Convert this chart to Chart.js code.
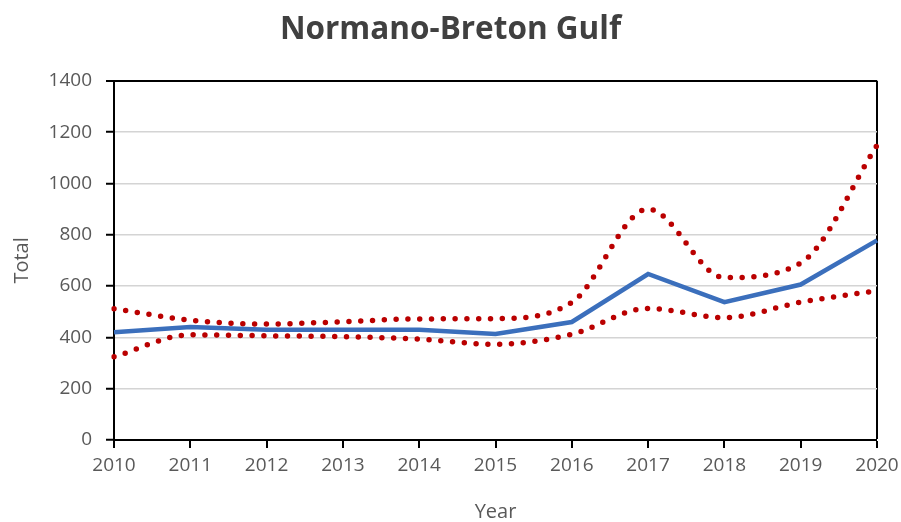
<!DOCTYPE html>
<html>
<head>
<meta charset="utf-8">
<script src="https://cdn.jsdelivr.net/npm/chart.js@4/dist/chart.umd.min.js"></script>
<style>
html,body{margin:0;padding:0;background:#fff;}
#wrap{width:901px;height:522px;}
</style>
</head>
<body>
<div id="wrap"><canvas id="c" width="901" height="522"></canvas></div>
<script>
const years = ['2010','2011','2012','2013','2014','2015','2016','2017','2018','2019','2020'];
const totalValues = [420, 440, 430, 430, 430, 413, 460, 647, 537, 606, 778];
const upperValues = [512, 467, 452, 461, 472, 473, 536, 900, 633, 690, 1148];
const lowerValues = [324, 410, 406, 403, 393, 373, 412, 513, 477, 537, 582];
const yTicks = [0, 200, 400, 600, 800, 1000, 1200, 1400];

const FONT = "'Open Sans', 'Liberation Sans', sans-serif";
const lastIdx = years.length - 1;

new Chart(document.getElementById('c'), {
  type: 'line',
  data: {
    labels: years,
    datasets: [
      {
        label: 'Total',
        data: totalValues,
        borderColor: '#3B6FBC',
        borderWidth: 4.5,
        pointRadius: 0,
        tension: 0,
        fill: false
      },
      {
        label: 'Upper',
        data: upperValues,
        borderColor: '#BA0000',
        borderWidth: 5.5,
        borderDash: [0, 11.8],
        borderCapStyle: 'round',
        pointRadius: 0,
        cubicInterpolationMode: 'monotone',
        tension: 0.4,
        fill: false
      },
      {
        label: 'Lower',
        data: lowerValues,
        borderColor: '#BA0000',
        borderWidth: 5.5,
        borderDash: [0, 11.8],
        borderCapStyle: 'round',
        pointRadius: 0,
        cubicInterpolationMode: 'monotone',
        tension: 0.4,
        fill: false
      }
    ]
  },
  options: {
    responsive: false,
    animation: false,
    layout: { padding: { left: 0, right: 0, top: 0, bottom: 0 } },
    plugins: {
      legend: { display: false },
      tooltip: { enabled: false },
      title: {
        display: true,
        text: 'Normano-Breton Gulf',
        color: '#404040',
        font: { family: FONT, size: 31.5, weight: 'bold', lineHeight: 1.2 },
        padding: { top: 11, bottom: 32 }
      }
    },
    scales: {
      x: {
        type: 'category',
        offset: false,
        border: { display: true, color: '#000', width: 2 },
        grid: {
          drawOnChartArea: true,
          drawTicks: true,
          tickLength: 8,
          tickColor: '#000',
          tickWidth: 2,
          color: (ctx) => ctx.index === lastIdx ? '#000' : 'rgba(0,0,0,0)',
          lineWidth: (ctx) => ctx.index === lastIdx ? 2 : 0
        },
        ticks: {
          color: '#595959',
          font: { family: FONT, size: 19 },
          padding: 6,
          maxRotation: 0,
          autoSkip: false
        },
        title: {
          display: true,
          text: 'Year',
          color: '#595959',
          font: { family: FONT, size: 20, lineHeight: 1 },
          padding: { top: 0, bottom: 0 }
        },
        afterFit: (s) => { s.height = 82; s.paddingLeft = 0; s.paddingRight = 24; }
      },
      y: {
        min: 0,
        max: 1400,
        afterBuildTicks: (s) => { s.ticks = yTicks.map(v => ({ value: v })); },
        border: { display: true, color: '#000', width: 2 },
        grid: {
          drawTicks: true,
          tickLength: 8,
          tickColor: '#000',
          tickWidth: 2,
          color: (ctx) => (ctx.tick && ctx.tick.value === 1400) ? '#000' : '#D4D4D4',
          lineWidth: (ctx) => (ctx.tick && ctx.tick.value === 1400) ? 2 : 1.5
        },
        ticks: {
          color: '#595959',
          font: { family: FONT, size: 19 },
          padding: 14,
          callback: (v) => String(v)
        },
        title: {
          display: true,
          text: 'Total',
          color: '#595959',
          font: { family: FONT, size: 20, lineHeight: 1.2 },
          padding: { top: 10, bottom: 0 }
        },
        afterFit: (s) => { s.width = 114; s.paddingTop = 0; s.paddingBottom = 0; }
      }
    }
  }
});
</script>
</body>
</html>
